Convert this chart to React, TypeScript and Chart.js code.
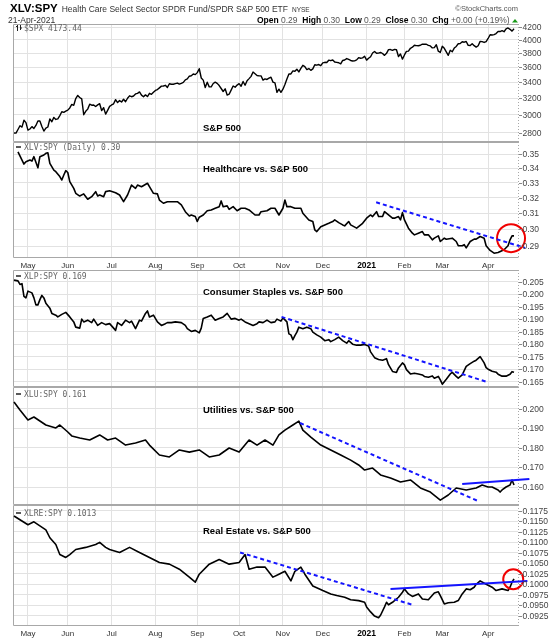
import React, { useEffect, useRef } from "react";
import { Chart, registerables } from "chart.js";

Chart.register(...registerables);

// ---------- DATA ----------
// trading-day index (0 = 22-Apr-2020) of the first session of each month
const MONTH_IDX = [7, 27, 49, 71, 92, 113, 135, 155, 177, 196, 215, 238];
const MONTH_LABELS = ["May", "Jun", "Jul", "Aug", "Sep", "Oct", "Nov", "Dec", "2021", "Feb", "Mar", "Apr"];

const SPX_CLOSE = [
  2799, 2798, 2837, 2878, 2863, 2939, 2912,
  2830, 2842, 2868, 2848, 2881, 2930, 2930, 2870, 2820, 2852, 2864, 2954, 2922, 2971, 2948, 2955, 2992, 3036, 3029, 3044,
  3055, 3081, 3122, 3112, 3194, 3232, 3207, 3190, 3002, 3041, 3067, 3125, 3113, 3115, 3098, 3117, 3131, 3050, 3084, 3009, 3053, 3100,
  3116, 3130, 3180, 3145, 3169, 3152, 3185, 3155, 3197, 3227, 3216, 3225, 3251, 3258, 3276, 3236, 3216, 3239, 3218, 3258, 3246, 3271,
  3295, 3306, 3327, 3349, 3351, 3360, 3333, 3380, 3373, 3373, 3381, 3389, 3375, 3385, 3397, 3431, 3443, 3479, 3485, 3508, 3500,
  3527, 3580, 3455, 3427, 3331, 3399, 3340, 3341, 3383, 3401, 3385, 3357, 3319, 3281, 3315, 3237, 3247, 3298, 3351, 3336, 3363,
  3381, 3348, 3409, 3361, 3419, 3447, 3477, 3535, 3512, 3489, 3483, 3484, 3427, 3443, 3436, 3453, 3465, 3401, 3391, 3271, 3310, 3270,
  3310, 3370, 3443, 3510, 3509, 3550, 3545, 3573, 3537, 3585, 3627, 3610, 3568, 3582, 3558, 3578, 3635, 3629, 3638, 3622,
  3662, 3669, 3666, 3699, 3692, 3702, 3673, 3668, 3663, 3647, 3695, 3702, 3722, 3709, 3695, 3687, 3690, 3703, 3735, 3727, 3732, 3756,
  3700, 3726, 3748, 3803, 3825, 3799, 3801, 3810, 3795, 3768, 3798, 3852, 3853, 3841, 3855, 3850, 3751, 3787, 3714,
  3774, 3826, 3830, 3872, 3887, 3916, 3911, 3910, 3917, 3934, 3933, 3932, 3914, 3907, 3877, 3881, 3925, 3829, 3811,
  3901, 3871, 3820, 3768, 3842, 3821, 3875, 3899, 3939, 3943, 3969, 3963, 3974, 3916, 3913, 3941, 3911, 3889, 3910, 3975, 3971, 3959, 3973,
  4020, 4078, 4074, 4080, 4097, 4129, 4128, 4142, 4125, 4170, 4185, 4163, 4135, 4173,
];

type P = [number, number];

const XLV_SPY: P[] = [
  [2,0.3516],[5,0.3429],[6,0.3445],[8,0.3457],[9,0.3450],[10,0.3481],[12,0.3403],[13,0.3481],[15,0.3493],[16,0.3505],[17,0.3509],[18,0.3434],[20,0.3387],[21,0.3376],[23,0.3342],[24,0.3319],[25,0.3353],[26,0.3383],[27,0.3370],[28,0.3308],[30,0.3263],[31,0.3230],[33,0.3212],[35,0.3226],[37,0.3191],[39,0.3208],[41,0.3241],[42,0.3212],[43,0.3219],[45,0.3208],[46,0.3241],[48,0.3247],[51,0.3234],[53,0.3219],[55,0.3175],[57,0.3219],[59,0.3285],[61,0.3263],[62,0.3285],[64,0.3274],[67,0.3297],[68,0.3274],[70,0.3230],[72,0.3226],[73,0.3186],[75,0.3165],[77,0.3175],[79,0.3175],[82,0.3175],[84,0.3154],[86,0.3111],[88,0.3084],[89,0.3090],[91,0.3080],[92,0.3049],[93,0.3076],[95,0.3090],[97,0.3117],[99,0.3122],[101,0.3133],[103,0.3143],[104,0.3180],[105,0.3143],[107,0.3148],[108,0.3126],[110,0.3143],[112,0.3117],[114,0.3133],[116,0.3133],[118,0.3122],[121,0.3090],[123,0.3090],[124,0.3111],[127,0.3117],[129,0.3133],[131,0.3133],[133,0.3090],[135,0.3133],[136,0.3186],[137,0.3143],[139,0.3143],[141,0.3133],[144,0.3133],[145,0.3101],[148,0.3059],[150,0.3049],[151,0.2997],[152,0.2987],[154,0.3017],[156,0.3028],[158,0.3038],[160,0.3049],[161,0.3059],[163,0.3042],[165,0.3028],[166,0.3022],[168,0.3049],[169,0.3028],[172,0.3008],[175,0.3038],[177,0.3070],[179,0.3090],[180,0.3080],[182,0.3111],[183,0.3080],[185,0.3080],[186,0.3111],[188,0.3090],[190,0.3070],[191,0.3070],[193,0.3080],[194,0.3059],[195,0.3105],[196,0.3059],[198,0.3008],[200,0.2977],[201,0.2967],[203,0.2977],[205,0.2987],[206,0.2967],[208,0.2967],[210,0.2937],[211,0.2947],[213,0.2961],[214,0.2927],[216,0.2947],[217,0.2941],[220,0.2947],[222,0.2927],[223,0.2902],[225,0.2902],[226,0.2908],[227,0.2889],[229,0.2927],[231,0.2941],[232,0.2941],[234,0.2957],[236,0.2947],[237,0.2902],[239,0.2874],[241,0.2858],[243,0.2862],[246,0.2878],[248,0.2902],[249,0.2937],[250,0.2961],[251,0.2961],
];

const XLP_SPY: P[] = [
  [0,0.2056],[2,0.2053],[3,0.2039],[4,0.2042],[5,0.1991],[6,0.1985],[7,0.2012],[9,0.2005],[10,0.1985],[11,0.1957],[12,0.1957],[13,0.1978],[14,0.1995],[15,0.1985],[16,0.1964],[18,0.1944],[19,0.1923],[21,0.1916],[22,0.1909],[24,0.1919],[26,0.1927],[28,0.1909],[30,0.1889],[31,0.1868],[33,0.1864],[34,0.1900],[35,0.1889],[37,0.1896],[39,0.1886],[40,0.1900],[42,0.1875],[44,0.1886],[46,0.1878],[48,0.1882],[49,0.1873],[51,0.1855],[52,0.1886],[54,0.1875],[56,0.1896],[58,0.1886],[59,0.1892],[61,0.1862],[63,0.1896],[64,0.1892],[66,0.1923],[67,0.1933],[68,0.1909],[70,0.1916],[72,0.1889],[74,0.1875],[76,0.1882],[77,0.1886],[79,0.1886],[81,0.1889],[84,0.1886],[86,0.1875],[87,0.1862],[89,0.1851],[91,0.1855],[93,0.1845],[94,0.1864],[95,0.1903],[97,0.1909],[99,0.1916],[101,0.1896],[103,0.1903],[105,0.1909],[107,0.1923],[109,0.1900],[111,0.1903],[113,0.1896],[114,0.1900],[116,0.1889],[118,0.1882],[120,0.1875],[122,0.1882],[123,0.1889],[125,0.1886],[127,0.1896],[129,0.1886],[131,0.1889],[132,0.1900],[134,0.1892],[135,0.1905],[137,0.1889],[138,0.1841],[139,0.1837],[140,0.1818],[141,0.1834],[142,0.1848],[143,0.1868],[145,0.1862],[147,0.1868],[149,0.1862],[150,0.1848],[152,0.1837],[154,0.1828],[156,0.1814],[158,0.1818],[159,0.1810],[161,0.1818],[163,0.1828],[165,0.1814],[167,0.1804],[168,0.1814],[170,0.1800],[172,0.1796],[174,0.1796],[176,0.1799],[178,0.1793],[179,0.1769],[181,0.1746],[183,0.1739],[185,0.1736],[187,0.1742],[188,0.1718],[190,0.1691],[192,0.1687],[193,0.1705],[195,0.1725],[196,0.1717],[197,0.1698],[199,0.1681],[201,0.1684],[203,0.1681],[205,0.1677],[206,0.1671],[208,0.1668],[210,0.1673],[211,0.1664],[213,0.1671],[214,0.1657],[215,0.1640],[217,0.1660],[219,0.1681],[220,0.1687],[222,0.1671],[223,0.1664],[225,0.1677],[227,0.1711],[229,0.1722],[231,0.1732],[232,0.1736],[234,0.1750],[236,0.1725],[237,0.1706],[238,0.1700],[240,0.1692],[242,0.1688],[243,0.1680],[245,0.1672],[247,0.1672],[248,0.1676],[249,0.1680],[250,0.1690],[251,0.1688],
];

const XLU_SPY: P[] = [
  [0,0.2036],[3,0.1995],[7,0.1944],[10,0.1959],[16,0.1918],[21,0.1903],[23,0.1918],[27,0.1882],[29,0.1862],[33,0.1851],[38,0.1841],[43,0.1867],[47,0.1841],[51,0.1851],[56,0.1815],[61,0.1826],[66,0.1841],[68,0.1815],[73,0.1764],[78,0.1754],[83,0.1790],[88,0.1779],[93,0.1790],[98,0.1754],[103,0.1764],[108,0.1800],[113,0.1779],[118,0.1841],[122,0.1815],[126,0.1841],[130,0.1815],[133,0.1867],[136,0.1892],[140,0.1918],[143,0.1938],[145,0.1892],[149,0.1856],[154,0.1815],[159,0.1790],[164,0.1764],[169,0.1738],[173,0.1713],[176,0.1687],[180,0.1697],[184,0.1662],[189,0.1646],[194,0.1626],[199,0.1636],[204,0.1595],[209,0.1574],[214,0.1533],[218,0.1559],[222,0.1595],[227,0.1585],[232,0.1595],[235,0.1610],[238,0.1600],[240,0.1600],[243,0.1585],[244,0.1574],[245,0.1585],[247,0.1600],[249,0.1610],[250,0.1636],[251,0.1610],
];

const XLRE_SPY: P[] = [
  [0,0.1163],[3,0.1154],[7,0.1142],[10,0.1149],[16,0.1130],[18,0.1111],[21,0.1095],[23,0.1071],[26,0.1064],[28,0.1071],[31,0.1083],[36,0.1088],[41,0.1095],[43,0.1100],[46,0.1088],[48,0.1083],[53,0.1076],[58,0.1088],[63,0.1076],[68,0.1064],[73,0.1052],[78,0.1048],[83,0.1036],[88,0.1017],[91,0.1005],[93,0.1024],[98,0.1048],[103,0.1059],[108,0.1048],[113,0.1052],[116,0.1071],[118,0.1036],[122,0.1041],[126,0.1041],[130,0.1017],[133,0.1024],[136,0.1031],[139,0.1008],[141,0.1031],[144,0.1041],[146,0.1024],[150,0.0996],[155,0.0985],[159,0.0977],[162,0.0973],[166,0.0969],[169,0.0963],[173,0.0961],[176,0.0957],[177,0.0946],[179,0.0934],[181,0.0924],[183,0.0920],[184,0.0926],[186,0.0946],[187,0.0957],[188,0.0951],[190,0.0957],[193,0.0969],[195,0.0981],[196,0.0989],[198,0.0977],[200,0.0971],[203,0.0977],[205,0.0965],[208,0.0963],[211,0.0979],[213,0.0982],[214,0.0973],[216,0.0953],[218,0.0956],[221,0.0957],[223,0.0961],[225,0.0977],[227,0.0989],[229,0.0987],[231,0.0993],[232,0.1000],[234,0.1008],[237,0.1000],[240,0.0993],[242,0.0985],[245,0.0989],[248,0.0985],[249,0.0993],[250,0.1005],[251,0.1013],
];

const SPX_TICKS = [2800, 3000, 3200, 3400, 3600, 3800, 4000, 4200];
const XLV_TICKS = [0.29, 0.30, 0.31, 0.32, 0.33, 0.34, 0.35];
const XLP_TICKS = [0.165, 0.170, 0.175, 0.180, 0.185, 0.190, 0.195, 0.200, 0.205];
const XLU_TICKS = [0.160, 0.170, 0.180, 0.190, 0.200];
const XLRE_TICKS = [0.0925, 0.0950, 0.0975, 0.1000, 0.1025, 0.1050, 0.1075, 0.1100, 0.1125, 0.1150, 0.1175];

type Seg = { from: P; to: P; dashed: boolean };
const XLV_TRENDS: Seg[] = [{ from: [181.8, 0.3171], to: [256.6, 0.2889], dashed: true }];
const XLP_TRENDS: Seg[] = [{ from: [134.3, 0.1909], to: [237, 0.1650], dashed: true }];
const XLU_TRENDS: Seg[] = [
  { from: [143.6, 0.1928], to: [233, 0.1528], dashed: true },
  { from: [225, 0.1615], to: [258.7, 0.1641], dashed: false },
];
const XLRE_TRENDS: Seg[] = [
  { from: [113.5, 0.1076], to: [200, 0.0951], dashed: true },
  { from: [189, 0.0989], to: [257.7, 0.1008], dashed: false },
];
const XLV_MARKS: P[] = [[249.5, 0.2947]];
const XLRE_MARKS: P[] = [[250.6, 0.1012]];

// ---------- STYLE / LAYOUT ----------
const SANS = '"Liberation Sans", Arial, Helvetica, sans-serif';
const MONO = '"DejaVu Sans Mono", "Liberation Mono", monospace';
const GRID = "#e2e2e2";
const FRAME = "#a8a8a8";
const BLUE = "#1414ff";
const RED = "#f00000";

interface PanelDef {
  canvasTop: number;
  padTop: number;
  padBottom: number;
  areaH: number;
  log: boolean;
  min: number;
  max: number;
  ticks: number[];
  decimals: number;
  series: P[];
  trends: Seg[];
  marks: P[];
  markR: number;
  legend: string;
  legendIcon: "ohlc" | "dash";
  legendY: number;
  title: string;
  titleY: number;
  xLabels: boolean;
  header: boolean;
}

const PANELS: PanelDef[] = [
  {
    canvasTop: 0, padTop: 24, padBottom: 10, areaH: 118, log: true, min: 2704, max: 4249,
    ticks: SPX_TICKS, decimals: 0, series: SPX_CLOSE.map((v, i) => [i, v] as P), trends: [], marks: [], markR: 0,
    legend: "$SPX 4173.44", legendIcon: "ohlc", legendY: 28, title: "S&P 500", titleY: 128, xLabels: false, header: true,
  },
  {
    canvasTop: 132, padTop: 10, padBottom: 14, areaH: 116, log: true, min: 0.283, max: 0.3587,
    ticks: XLV_TICKS, decimals: 2, series: XLV_SPY, trends: XLV_TRENDS, marks: XLV_MARKS, markR: 14,
    legend: "XLV:SPY (Daily) 0.30", legendIcon: "dash", legendY: 147, title: "Healthcare vs. S&P 500", titleY: 169, xLabels: true, header: false,
  },
  {
    canvasTop: 260, padTop: 10, padBottom: 10, areaH: 117, log: false, min: 0.16287, max: 0.20965,
    ticks: XLP_TICKS, decimals: 3, series: XLP_SPY, trends: XLP_TRENDS, marks: [], markR: 0,
    legend: "XLP:SPY 0.169", legendIcon: "dash", legendY: 276, title: "Consumer Staples vs. S&P 500", titleY: 292, xLabels: false, header: false,
  },
  {
    canvasTop: 377, padTop: 10, padBottom: 10, areaH: 118, log: false, min: 0.15077, max: 0.21128,
    ticks: XLU_TICKS, decimals: 3, series: XLU_SPY, trends: XLU_TRENDS, marks: [], markR: 0,
    legend: "XLU:SPY 0.161", legendIcon: "dash", legendY: 394, title: "Utilities vs. S&P 500", titleY: 410, xLabels: false, header: false,
  },
  {
    canvasTop: 495, padTop: 10, padBottom: 14, areaH: 121, log: false, min: 0.09004, max: 0.11892,
    ticks: XLRE_TICKS, decimals: 4, series: XLRE_SPY, trends: XLRE_TRENDS, marks: XLRE_MARKS, markR: 10,
    legend: "XLRE:SPY 0.1013", legendIcon: "dash", legendY: 513, title: "Real Estate vs. S&P 500", titleY: 531, xLabels: true, header: false,
  },
];

function drawHeader(ctx: CanvasRenderingContext2D) {
  ctx.textBaseline = "alphabetic";
  ctx.textAlign = "left";
  ctx.fillStyle = "#000";
  ctx.font = `bold 11.5px ${SANS}`;
  ctx.fillText("XLV:SPY", 10, 12);
  let x = 10 + ctx.measureText("XLV:SPY").width + 4;
  ctx.font = `8.5px ${SANS}`;
  ctx.fillStyle = "#333";
  const desc = "Health Care Select Sector SPDR Fund/SPDR S&P 500 ETF";
  ctx.fillText(desc, x, 12);
  x += ctx.measureText(desc).width + 4;
  ctx.font = `6.5px ${SANS}`;
  ctx.fillText("NYSE", x, 12);

  ctx.font = `7.5px ${SANS}`;
  ctx.fillStyle = "#555";
  ctx.textAlign = "right";
  ctx.fillText("\u00A9StockCharts.com", 518, 11);
  ctx.textAlign = "left";

  ctx.font = `8.5px ${SANS}`;
  ctx.fillStyle = "#333";
  ctx.fillText("21-Apr-2021", 8, 23);

  const segs: [string, boolean][] = [
    ["Open", true], [" 0.29  ", false], ["High", true], [" 0.30  ", false], ["Low", true], [" 0.29  ", false],
    ["Close", true], [" 0.30  ", false], ["Chg", true], [" +0.00 (+0.19%) ", false],
  ];
  const fontFor = (b: boolean) => (b ? `bold 8.5px ${SANS}` : `8.5px ${SANS}`);
  let total = 0;
  segs.forEach(([t, b]) => { ctx.font = fontFor(b); total += ctx.measureText(t).width; });
  total += 6;
  x = 518 - total;
  segs.forEach(([t, b]) => {
    ctx.font = fontFor(b);
    ctx.fillStyle = b ? "#000" : "#555";
    ctx.fillText(t, x, 23);
    x += ctx.measureText(t).width;
  });
  ctx.fillStyle = "#1a9a1a";
  ctx.beginPath();
  ctx.moveTo(x, 22.5);
  ctx.lineTo(x + 6, 22.5);
  ctx.lineTo(x + 3, 19);
  ctx.closePath();
  ctx.fill();
}

function overlay(p: PanelDef) {
  return {
    id: "overlay",
    beforeDatasetsDraw(chart: any) {
      const { ctx, chartArea: a } = chart;
      ctx.save();
      ctx.strokeStyle = FRAME;
      ctx.lineWidth = 1;
      ctx.beginPath();
      ctx.moveTo(a.left + 0.5, a.bottom - 0.5);
      ctx.lineTo(a.left + 0.5, a.top + 0.5);
      ctx.lineTo(a.right + 0.5, a.top + 0.5);
      ctx.moveTo(a.left + 0.5, a.bottom - 0.5);
      ctx.lineTo(a.right + 0.5, a.bottom - 0.5);
      ctx.stroke();
      ctx.setLineDash([1, 2]);
      ctx.beginPath();
      ctx.moveTo(a.right + 0.5, a.top);
      ctx.lineTo(a.right + 0.5, a.bottom);
      ctx.stroke();
      ctx.restore();
    },
    afterDraw(chart: any) {
      const { ctx, chartArea: a, scales } = chart;
      const ys = scales.y;
      const xs = scales.x;
      const off = p.canvasTop;
      ctx.save();
      // right axis labels
      ctx.font = `8.5px ${SANS}`;
      ctx.textBaseline = "middle";
      ctx.textAlign = "left";
      ctx.strokeStyle = "#888";
      ctx.lineWidth = 1;
      p.ticks.forEach((v) => {
        const y = Math.round(ys.getPixelForValue(v)) + 0.5;
        ctx.beginPath();
        ctx.moveTo(a.right + 1, y);
        ctx.lineTo(a.right + 4, y);
        ctx.stroke();
        ctx.fillStyle = "#444";
        ctx.fillText(v.toFixed(p.decimals), a.right + 4.5, y);
      });
      // legend
      const ly = p.legendY - off;
      ctx.strokeStyle = "#222";
      ctx.lineWidth = 1.5;
      if (p.legendIcon === "dash") {
        ctx.beginPath();
        ctx.moveTo(a.left + 3, ly);
        ctx.lineTo(a.left + 8, ly);
        ctx.stroke();
      } else {
        ctx.lineWidth = 1;
        ctx.beginPath();
        ctx.moveTo(a.left + 4.5, ly - 3); ctx.lineTo(a.left + 4.5, ly + 3);
        ctx.moveTo(a.left + 3, ly - 1.5); ctx.lineTo(a.left + 4.5, ly - 1.5);
        ctx.moveTo(a.left + 7.5, ly - 3); ctx.lineTo(a.left + 7.5, ly + 2);
        ctx.moveTo(a.left + 7.5, ly); ctx.lineTo(a.left + 9, ly);
        ctx.stroke();
      }
      ctx.font = `8px ${MONO}`;
      ctx.fillStyle = "#666";
      ctx.fillText(p.legend, a.left + 11, ly + 0.5);
      // title
      ctx.font = `bold 9.5px ${SANS}`;
      ctx.fillStyle = "#000";
      ctx.fillText(p.title, 203, p.titleY - off);
      // x labels
      if (p.xLabels) {
        ctx.textAlign = "center";
        MONTH_IDX.forEach((d, i) => {
          const lbl = MONTH_LABELS[i];
          ctx.font = lbl === "2021" ? `bold 8.5px ${SANS}` : `8px ${SANS}`;
          ctx.fillStyle = lbl === "2021" ? "#000" : "#333";
          ctx.fillText(lbl, xs.getPixelForValue(d), a.bottom + 7.5);
        });
      }
      if (p.header) drawHeader(ctx);
      ctx.restore();
    },
  };
}

function buildChart(canvas: HTMLCanvasElement, p: PanelDef) {
  const datasets: any[] = [];
  p.trends.forEach((s) => {
    datasets.push({
      data: [{ x: s.from[0], y: s.from[1] }, { x: s.to[0], y: s.to[1] }],
      borderColor: BLUE,
      borderWidth: 2,
      borderDash: s.dashed ? [4, 3] : [],
      pointRadius: 0,
      fill: false,
      clip: false,
    });
  });
  p.marks.forEach((m) => {
    datasets.push({
      data: [{ x: m[0], y: m[1] }],
      showLine: false,
      pointRadius: p.markR,
      pointBorderColor: RED,
      pointBorderWidth: 2,
      pointBackgroundColor: "rgba(0,0,0,0)",
      clip: false,
    });
  });
  datasets.push({
    data: p.series.map(([x, y]) => ({ x, y })),
    borderColor: "#000",
    borderWidth: p.header ? 1.4 : 1.6,
    borderJoinStyle: "round",
    pointRadius: 0,
    tension: 0,
    fill: false,
  });

  return new Chart(canvas, {
    type: "line",
    data: { datasets },
    options: {
      responsive: false,
      animation: false,
      events: [],
      layout: { autoPadding: false, padding: { left: 13, right: 0, top: p.padTop, bottom: p.padBottom } },
      plugins: { legend: { display: false }, tooltip: { enabled: false } },
      scales: {
        x: {
          type: "linear",
          min: -0.5,
          max: 253,
          bounds: "data",
          afterBuildTicks: (s: any) => { s.ticks = MONTH_IDX.map((v) => ({ value: v })); },
          grid: { color: GRID, drawTicks: false, lineWidth: 1 },
          border: { display: false },
          ticks: { display: false },
        },
        y: {
          type: p.log ? "logarithmic" : "linear",
          position: "right",
          min: p.min,
          max: p.max,
          bounds: "data",
          afterBuildTicks: (s: any) => { s.ticks = p.ticks.map((v) => ({ value: v })); },
          afterFit: (s: any) => { s.width = 42; },
          grid: { color: GRID, drawTicks: false, lineWidth: 1 },
          border: { display: false },
          ticks: { display: false },
        },
      },
    } as any,
    plugins: [overlay(p)],
  } as any);
}

export default function App() {
  const refs = useRef<(HTMLCanvasElement | null)[]>([]);
  useEffect(() => {
    const charts = PANELS.map((p, i) => buildChart(refs.current[i] as HTMLCanvasElement, p));
    return () => charts.forEach((c) => c.destroy());
  }, []);
  return (
    <div style={{ position: "absolute", left: 0, top: 0, width: 560, height: 640, background: "#fff", overflow: "hidden" }}>
      {PANELS.map((p, i) => (
        <canvas
          key={i}
          ref={(el) => { refs.current[i] = el; }}
          width={560}
          height={p.padTop + p.areaH + p.padBottom}
          style={{ position: "absolute", left: 0, top: p.canvasTop, display: "block" }}
        />
      ))}
    </div>
  );
}
